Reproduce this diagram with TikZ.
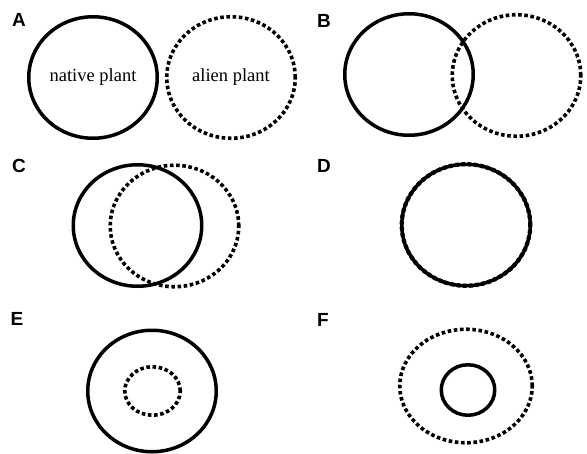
\documentclass[tikz,border=0pt]{standalone}
\usepackage{fontspec}
\setmainfont{Liberation Serif}
\newfontfamily\labelfont{Liberation Sans}
\usetikzlibrary{shapes.geometric}
\begin{document}
\begin{tikzpicture}[
  x=1pt, y=-1pt,
  native/.style={draw, ellipse, line width=3.5pt, inner sep=0pt, font=\fontsize{18.5}{20}\selectfont},
  alien/.style={draw, ellipse, line width=3.6pt, dash pattern=on 3.6pt off 2.6pt, inner sep=0pt, font=\fontsize{18.5}{20}\selectfont},
  big/.style={minimum width=128.5pt, minimum height=121.5pt},
  panel/.style={font=\labelfont\bfseries\fontsize{19}{20}\selectfont, inner sep=0pt}
]
\useasboundingbox (0,0) rectangle (587,453);

% A: separate
\node[panel] (labA) at (19,20) {A};
\node[native, big] (natA) at (93,77.5) {native plant};
\node[alien, big] (aliA) at (231,77.5) {alien plant};

% B: partial overlap
\node[panel] (labB) at (324,21) {B};
\node[native, big] (natB) at (409,74.5) {};
\node[alien, big] (aliB) at (516.5,75.5) {};

% C: large overlap
\node[panel] (labC) at (19,166) {C};
\node[native, big] (natC) at (137.5,225.5) {};
\node[alien, big] (aliC) at (174.5,226) {};

% D: identical
\node[panel] (labD) at (324,166) {D};
\node[native, big] (natD) at (466,225) {};
\node[alien, big, line width=4.2pt] (aliD) at (466,225) {};

% E: alien inside native
\node[panel] (labE) at (17,319) {E};
\node[native, big] (natE) at (152,391) {};
\node[alien, minimum width=55.5pt, minimum height=48.5pt] (aliE) at (152.5,391) {};

% F: native inside alien
\node[panel] (labF) at (323,320) {F};
\node[alien, minimum width=132.5pt, minimum height=113.5pt] (aliF) at (466,386) {};
\node[native, minimum width=53.5pt, minimum height=50.5pt] (natF) at (468,390) {};
\end{tikzpicture}
\end{document}
